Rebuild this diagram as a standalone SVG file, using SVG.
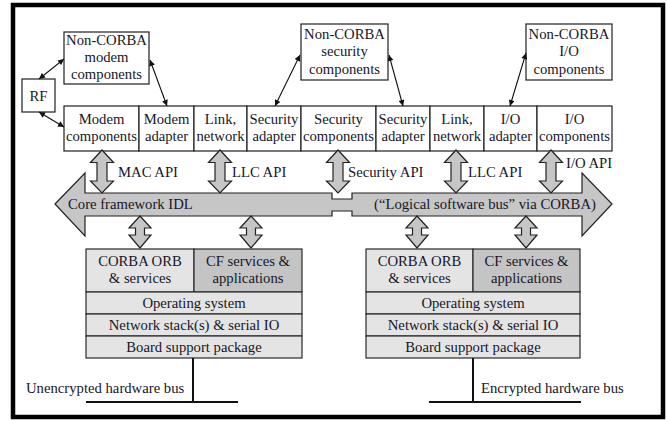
<svg xmlns="http://www.w3.org/2000/svg" width="667" height="421" viewBox="0 0 667 421">
  <defs>
    <style>
      text { font-family: "Liberation Serif", "Times New Roman", serif; font-size: 14.7px; fill: #161628; text-anchor: middle; }
      text.l { text-anchor: start; }
      .box { fill: #ffffff; stroke: #1e1e1e; stroke-width: 1.2; }
      .lt { fill: #e4e4e4; stroke: #2a2a2a; stroke-width: 1.2; }
      .dk { fill: #c4c4c4; stroke: #2a2a2a; stroke-width: 1.2; }
      .blk { fill: #c6c6c6; stroke: #222222; stroke-width: 1.2; stroke-linejoin: miter; }
      .thin { stroke: #111111; stroke-width: 1.1; fill: none; marker-start: url(#ah); marker-end: url(#ah); }
      .wire { stroke: #111111; stroke-width: 2; fill: none; }
    </style>
    <marker id="ah" viewBox="0 0 10 10" refX="10" refY="5" markerWidth="7" markerHeight="6" markerUnits="userSpaceOnUse" orient="auto-start-reverse">
      <path d="M0,0 L10,5 L0,10 z" fill="#111111"/>
    </marker>
  </defs>

  <!-- outer frame -->
  <rect x="13" y="5" width="650" height="412" fill="#ffffff" stroke="#000000" stroke-width="4.5"/>

  <!-- non-CORBA components -->
  <g id="rf">
    <rect class="box" x="22" y="79" width="33" height="33"/>
    <text x="38.5" y="100.5">RF</text>
  </g>
  <g id="noncorba-modem">
    <rect class="box" x="64" y="32" width="85" height="52"/>
    <text x="106.5" y="45">Non-CORBA</text>
    <text x="106.5" y="62">modem</text>
    <text x="106.5" y="79">components</text>
  </g>
  <g id="noncorba-security">
    <rect class="box" x="301" y="24" width="87" height="56"/>
    <text x="344.5" y="38.5">Non-CORBA</text>
    <text x="344.5" y="56">security</text>
    <text x="344.5" y="73.5">components</text>
  </g>
  <g id="noncorba-io">
    <rect class="box" x="526" y="24" width="86" height="56"/>
    <text x="569" y="38.5">Non-CORBA</text>
    <text x="569" y="56">I/O</text>
    <text x="569" y="73.5">components</text>
  </g>

  <!-- CORBA component row -->
  <g id="modem-components">
    <rect class="box" x="64" y="106" width="75" height="45"/>
    <text x="101.5" y="124">Modem</text>
    <text x="101.5" y="141">components</text>
  </g>
  <g id="modem-adapter">
    <rect class="box" x="139" y="106" width="55" height="45"/>
    <text x="166.5" y="124">Modem</text>
    <text x="166.5" y="141">adapter</text>
  </g>
  <g id="link-network-1">
    <rect class="box" x="194" y="106" width="53" height="45"/>
    <text x="220.5" y="124">Link,</text>
    <text x="220.5" y="141">network</text>
  </g>
  <g id="security-adapter-1">
    <rect class="box" x="247" y="106" width="54" height="45"/>
    <text x="274" y="124">Security</text>
    <text x="274" y="141">adapter</text>
  </g>
  <g id="security-components">
    <rect class="box" x="301" y="106" width="75" height="45"/>
    <text x="338.5" y="124">Security</text>
    <text x="338.5" y="141">components</text>
  </g>
  <g id="security-adapter-2">
    <rect class="box" x="376" y="106" width="54" height="45"/>
    <text x="403" y="124">Security</text>
    <text x="403" y="141">adapter</text>
  </g>
  <g id="link-network-2">
    <rect class="box" x="430" y="106" width="54" height="45"/>
    <text x="457" y="124">Link,</text>
    <text x="457" y="141">network</text>
  </g>
  <g id="io-adapter">
    <rect class="box" x="484" y="106" width="53" height="45"/>
    <text x="510.5" y="124">I/O</text>
    <text x="510.5" y="141">adapter</text>
  </g>
  <g id="io-components">
    <rect class="box" x="537" y="106" width="75" height="45"/>
    <text x="574.5" y="124">I/O</text>
    <text x="574.5" y="141">components</text>
  </g>

  <!-- logical software bus -->
  <g id="bus">
    <path class="blk" d="M55,204 L85,173 L85,193 L332,193 L332,199 L352,199 L352,193 L582,193 L582,173 L612,204 L582,236 L582,216 L352,216 L352,211 L332,211 L332,216 L85,216 L85,236 Z"/>
    <text class="l" x="68" y="209">Core framework IDL</text>
    <text class="l" x="374" y="209">(“Logical software bus” via CORBA)</text>
  </g>

  <!-- left processing node -->
  <g id="node-unencrypted">
    <rect class="lt" x="86" y="249" width="108" height="43"/>
    <rect class="dk" x="194" y="249" width="108" height="43"/>
    <rect class="lt" x="86" y="292" width="216" height="22"/>
    <rect class="lt" x="86" y="314" width="216" height="22"/>
    <rect class="lt" x="86" y="336" width="216" height="22"/>
    <text x="140" y="266">CORBA ORB</text>
    <text x="140" y="283">&amp; services</text>
    <text x="248" y="266">CF services &amp;</text>
    <text x="248" y="283">applications</text>
    <text x="194" y="308">Operating system</text>
    <text x="194" y="330">Network stack(s) &amp; serial IO</text>
    <text x="194" y="352">Board support package</text>
  </g>

  <!-- right processing node -->
  <g id="node-encrypted">
    <rect class="lt" x="366" y="249" width="107" height="43"/>
    <rect class="dk" x="473" y="249" width="107" height="43"/>
    <rect class="lt" x="366" y="292" width="214" height="22"/>
    <rect class="lt" x="366" y="314" width="214" height="22"/>
    <rect class="lt" x="366" y="336" width="214" height="22"/>
    <text x="419.5" y="266">CORBA ORB</text>
    <text x="419.5" y="283">&amp; services</text>
    <text x="526.5" y="266">CF services &amp;</text>
    <text x="526.5" y="283">applications</text>
    <text x="473" y="308">Operating system</text>
    <text x="473" y="330">Network stack(s) &amp; serial IO</text>
    <text x="473" y="352">Board support package</text>
  </g>

  <!-- hardware buses -->
  <g id="hw-bus-unencrypted">
    <path class="wire" d="M193,358 V402 M86,402 H238"/>
    <text class="l" x="26" y="393">Unencrypted hardware bus</text>
  </g>
  <g id="hw-bus-encrypted">
    <path class="wire" d="M473,358 V402 M429,402 H581"/>
    <text class="l" x="481" y="393">Encrypted hardware bus</text>
  </g>

  <!-- connectors -->
  <g id="connectors">
    <!-- thin links to non-CORBA parts -->
    <line class="thin" x1="39" y1="79" x2="64" y2="59"/>
    <line class="thin" x1="39" y1="112" x2="64" y2="127"/>
    <line class="thin" x1="150" y1="60" x2="167" y2="106"/>
    <line class="thin" x1="300" y1="55" x2="275" y2="106"/>
    <line class="thin" x1="389" y1="55" x2="403" y2="106"/>
    <line class="thin" x1="526" y1="53" x2="510" y2="106"/>

    <!-- API block arrows (upper) -->
    <path class="blk" d="M102,150 L113.5,162.5 L107,162.5 L107,181 L113.5,181 L102,193 L90.5,181 L97,181 L97,162.5 L90.5,162.5 Z"/>
    <path class="blk" d="M220,150 L231.5,162.5 L225,162.5 L225,181 L231.5,181 L220,193 L208.5,181 L215,181 L215,162.5 L208.5,162.5 Z"/>
    <path class="blk" d="M338,150 L349.5,162.5 L343,162.5 L343,181 L349.5,181 L338,193 L326.5,181 L333,181 L333,162.5 L326.5,162.5 Z"/>
    <path class="blk" d="M456,150 L467.5,162.5 L461,162.5 L461,181 L467.5,181 L456,193 L444.5,181 L451,181 L451,162.5 L444.5,162.5 Z"/>
    <path class="blk" d="M551,150 L562.5,162.5 L556,162.5 L556,181 L562.5,181 L551,193 L539.5,181 L546,181 L546,162.5 L539.5,162.5 Z"/>
    <text class="l" x="118" y="177">MAC API</text>
    <text class="l" x="232" y="177">LLC API</text>
    <text class="l" x="348" y="177">Security API</text>
    <text class="l" x="468" y="177">LLC API</text>
    <text class="l" x="566" y="168">I/O API</text>

    <!-- bus to node block arrows (lower) -->
    <path class="blk" d="M140,216 L151,228 L144.5,228 L144.5,235 L151,235 L140,248 L129,235 L135.5,235 L135.5,228 L129,228 Z"/>
    <path class="blk" d="M251,216 L262,228 L255.5,228 L255.5,235 L262,235 L251,248 L240,235 L246.5,235 L246.5,228 L240,228 Z"/>
    <path class="blk" d="M417,216 L428,228 L421.5,228 L421.5,235 L428,235 L417,248 L406,235 L412.5,235 L412.5,228 L406,228 Z"/>
    <path class="blk" d="M526,216 L537,228 L530.5,228 L530.5,235 L537,235 L526,248 L515,235 L521.5,235 L521.5,228 L515,228 Z"/>
  </g>
</svg>
